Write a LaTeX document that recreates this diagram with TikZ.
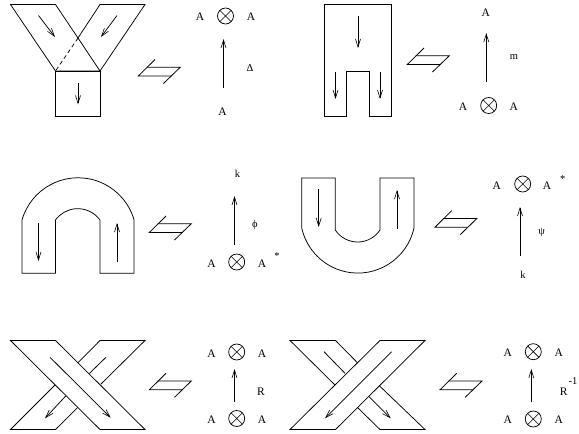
\documentclass[tikz,border=0pt]{standalone}
\usepackage{fontspec}
\setmainfont{Liberation Serif}
\usetikzlibrary{arrows.meta}
\tikzset{
  ln/.style={line width=0.75pt,line join=miter},
  arr/.style={line width=0.75pt,-{Straight Barb[length=8pt,width=5pt,line width=0.6pt]}},
  lab/.style={inner sep=0pt,font=\fontsize{11.5}{12}\selectfont},
  sm/.style={inner sep=0pt,font=\fontsize{10.5}{11}\selectfont},
  tens/.style={circle,draw,line width=0.75pt,minimum size=16pt,inner sep=0pt,
    path picture={\draw[line width=0.6pt] (path picture bounding box.south west)--(path picture bounding box.north east)
      (path picture bounding box.north west)--(path picture bounding box.south east);}},
  eqv/.style={line width=0.8pt,line join=miter}
}
% named arrow: name, start, end
\newcommand{\conn}[3]{\coordinate (#1-s) at (#2);\coordinate (#1-t) at (#3);\draw[arr] (#1-s)--(#1-t);}
% equivalence sign: name, x of top-left tick, y of tick top
\newcommand{\eqsym}[3]{%
  \coordinate (#1-a) at (#2,#3);
  \coordinate (#1-b) at (#2-16.7,#3+16.5);
  \coordinate (#1-c) at (#2+16,#3+16.5);
  \coordinate (#1-d) at (#2-8.3,#3+7.7);
  \coordinate (#1-e) at (#2+25.3,#3+7.7);
  \coordinate (#1-f) at (#2+8.5,#3+24);
  \draw[eqv] (#1-a)--(#1-b)--(#1-c);
  \draw[eqv] (#1-d)--(#1-e)--(#1-f);}
\begin{document}
\begin{tikzpicture}[x=1pt,y=-1pt]
\useasboundingbox (0,0) rectangle (579,434);
% --- panel 1
\draw[ln] (78,38)--(55.5,4.5)--(10.5,4.5)--(55.5,71)--(100,71)--(78,38)--(100,4.5)--(145,4.5)--(100,71);
\draw[ln,dashed,dash pattern=on 4pt off 3pt] (78,38)--(55.5,71);
\draw[ln] (55.5,71) rectangle (100,116);
\conn{a1}{38.5,15.5}{55,37}
\conn{a2}{117,15.5}{101,37}
\conn{a3}{78,83}{78,104.5}
\eqsym{e1}{155}{59.5}
\node[lab] (p1l) at (200,16.5) {A};
\node[tens] (p1t) at (225.5,16) {};
\node[lab] (p1r) at (251,16.5) {A};
\node[sm] (p1d) at (250,68) {Δ};
\node[lab] (p1b) at (222.5,111.5) {A};
\conn{a4}{223.5,88}{223.5,39}
% --- panel 2
\draw[ln] (346.7,116)--(346.7,71.5)--(369,71.5)--(369,116)--(391.5,116)--(391.5,4.5)--(324,4.5)--(324,116)--cycle;
\conn{b1}{358,16}{358,48}
\conn{b2}{335.5,72}{335.5,99}
\conn{b3}{380,72}{380,99}
\eqsym{e2}{424}{48}
\node[lab] (p2a) at (485.7,12.5) {A};
\node[sm] (p2m) at (514,57.5) {m};
\node[lab] (p2l) at (463,107) {A};
\node[tens] (p2t) at (488.7,105.5) {};
\node[lab] (p2r) at (513.7,107) {A};
\conn{b4}{486.3,82}{486.3,33}
% --- panel 3
\draw[ln] (22,273.3)--(22,220) arc[start angle=164,end angle=16,radius=58.3pt]
  --(134,273.3)--(100,273.3)--(100,220) arc[start angle=36,end angle=144,radius=27.5pt]
  --(55.5,273.3)--cycle;
\conn{c1}{38.5,223}{38.5,261}
\conn{c2}{117,262}{117,223}
\eqsym{e3}{166}{216}
\node[sm] (p3k) at (237.5,174) {k};
\node[sm] (p3p) at (255,224.5) {ϕ};
\node[lab] (p3l) at (211.5,264) {A};
\node[tens] (p3t) at (236.7,262) {};
\node[lab] (p3r) at (262,264) {A};
\node[sm] (p3s) at (277,256) {*};
\conn{c3}{234.5,245}{234.5,196}
% --- panel 4
\draw[ln] (301.7,228)--(301.7,178)--(335.3,178)--(335.3,230)
  arc[start angle=213.5,end angle=326.5,radius=26.8pt]
  --(380,178)--(414,178)--(414,228)
  arc[start angle=347.5,end angle=192.5,radius=57.5pt]--cycle;
\conn{d1}{318.7,189}{318.7,227}
\conn{d2}{397,228.5}{397,190}
\eqsym{e4}{451.7}{210.7}
\node[lab] (p4l) at (496.7,185.5) {A};
\node[tens] (p4t) at (522.7,184) {};
\node[lab] (p4r) at (547,185.5) {A};
\node[sm] (p4s) at (562.7,179) {*};
\node[sm] (p4p) at (541.7,232) {ψ};
\node[sm] (p4k) at (523,275) {k};
\conn{d3}{520,256}{520,207}
% --- panel 5
\draw[ln] (10.5,340.5)--(55.5,340.5)--(145,429.5)--(100,429.5)--cycle;
\draw[ln] (77.7,363)--(100,340.5)--(145,340.5)--(101,384);
\draw[ln] (55,385)--(10.5,429.5)--(55.5,429.5)--(77.7,407.5);
\conn{f1}{50,357.3}{110.7,417.7}
\coordinate (f2-s) at (106,357.3);\coordinate (f2-t) at (89.3,373.5);
\draw[ln] (f2-s)--(f2-t);
\conn{f3}{65.7,396}{45,418.3}
\eqsym{e5}{166}{373.3}
\node[lab] (p5tl) at (211.5,353.5) {A};
\node[tens] (p5tt) at (236.7,352) {};
\node[lab] (p5tr) at (262,353.5) {A};
\node[lab] (p5R) at (261,391.5) {R};
\node[lab] (p5bl) at (211.5,419.5) {A};
\node[tens] (p5bt) at (236.7,418.5) {};
\node[lab] (p5br) at (262,419.5) {A};
\conn{f4}{234.5,402}{234.5,369}
% --- panel 6
\draw[ln] (380,340.5)--(425,340.5)--(335.5,429.5)--(290,429.5)--cycle;
\draw[ln] (357.7,363)--(335.5,340.5)--(290,340.5)--(335,385);
\draw[ln] (379.3,385.7)--(425,429.5)--(380,429.5)--(357.7,407.7);
\conn{g1}{391.7,351.7}{325,418.3}
\coordinate (g2-s) at (324,351.7);\coordinate (g2-t) at (345,373.3);
\draw[ln] (g2-s)--(g2-t);
\conn{g3}{369,396.7}{390.7,418.3}
\eqsym{e6}{456.7}{373.3}
\node[lab] (p6tl) at (507.7,353) {A};
\node[tens] (p6tt) at (533.3,351.7) {};
\node[lab] (p6tr) at (558.7,353) {A};
\node[lab] (p6R) at (563.7,391.5) {R};
\node[sm] (p6i) at (573,381.5) {-1};
\node[lab] (p6bl) at (507.7,419.5) {A};
\node[tens] (p6bt) at (533.3,419) {};
\node[lab] (p6br) at (558.7,419.5) {A};
\conn{g4}{531.3,402}{531.3,369}
\end{tikzpicture}
\end{document}
